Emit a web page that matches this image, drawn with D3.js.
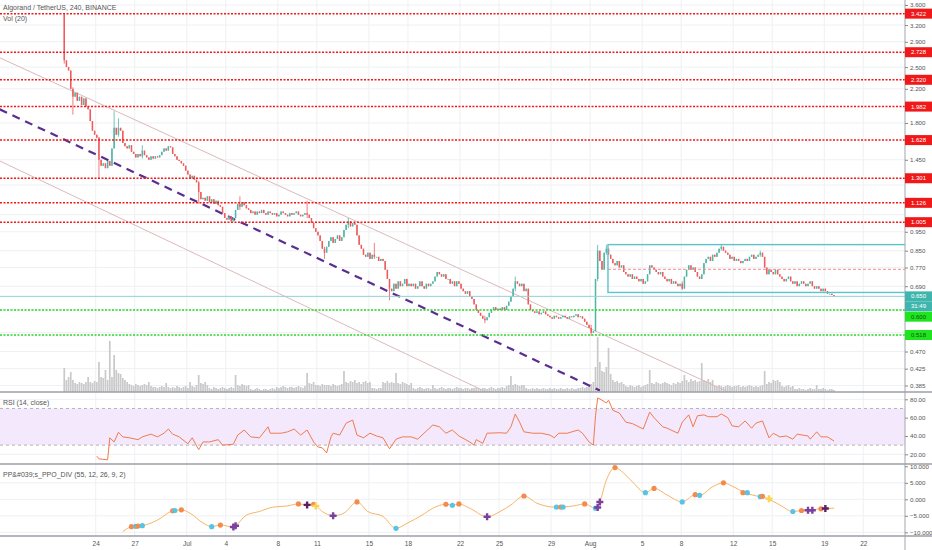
<!DOCTYPE html>
<html>
<head>
<meta charset="utf-8">
<script src="https://cdn.jsdelivr.net/npm/d3@7"></script>
<style>
  html, body { margin: 0; padding: 0; background: #fff; }
  svg { display: block; font-family: "Liberation Sans", Arial, sans-serif; }
</style>
</head>
<body>
<svg id="chart" width="932" height="550"></svg>
<script>
// ALGO/USDT 4h bars, first bar Jun 21 2019 14:00 UTC
const startTime = Date.UTC(2019, 5, 21, 14);
const firstOpen = 3.40;

const closes = [
  2.60, 2.50, 2.45, 2.20, 2.10,
  2.15, 2.05, 2.10, 2.00, 2.08, 1.98,
  1.95, 1.82, 1.72, 1.68, 1.65,
  1.45, 1.40, 1.42, 1.38, 1.44, 1.40,
  1.55, 1.75, 1.68, 1.75, 1.72,
  1.60, 1.57, 1.55, 1.58,
  1.52, 1.50, 1.47, 1.50, 1.48, 1.53, 1.49, 1.47,
  1.45, 1.48, 1.46, 1.48, 1.47, 1.49,
  1.52, 1.55, 1.53, 1.57, 1.56,
  1.50, 1.48, 1.45, 1.44, 1.42, 1.40,
  1.36, 1.33, 1.30, 1.32, 1.29, 1.27,
  1.20, 1.15,
  1.16, 1.14, 1.17, 1.13, 1.15, 1.12, 1.14, 1.11, 1.10,
  1.06, 1.03, 1.02, 1.04, 1.01, 1.03,
  1.08, 1.12, 1.10, 1.13, 1.11, 1.09, 1.08,
  1.06, 1.07, 1.05, 1.07, 1.06, 1.08, 1.06, 1.05, 1.07, 1.06,
  1.05, 1.06, 1.04, 1.05, 1.07, 1.06, 1.05, 1.04, 1.06, 1.05,
  1.06, 1.07, 1.05, 1.04, 1.05, 1.06, 1.05,
  1.03, 1.00, 0.97, 0.95, 0.93,
  0.90, 0.86, 0.84, 0.87,
  0.90, 0.92, 0.89, 0.91, 0.93, 0.90, 0.92,
  0.96, 0.99, 1.01, 0.98, 1.00, 0.99,
  0.93, 0.88, 0.86,
  0.83, 0.82, 0.84, 0.81, 0.83, 0.82, 0.82, 0.80, 0.81, 0.80,
  0.76, 0.72, 0.68, 0.67,
  0.70, 0.68, 0.71, 0.69, 0.70, 0.72, 0.69, 0.70,
  0.69, 0.70, 0.68, 0.69, 0.71, 0.69, 0.68, 0.70, 0.69, 0.70, 0.71,
  0.73, 0.75, 0.74, 0.73, 0.74, 0.72,
  0.72, 0.70, 0.71, 0.69, 0.71, 0.70,
  0.68, 0.67, 0.66, 0.67, 0.65, 0.64,
  0.62, 0.60, 0.59, 0.58,
  0.57, 0.565, 0.575,
  0.59, 0.60, 0.61, 0.60, 0.605, 0.60, 0.61, 0.60, 0.615,
  0.63, 0.65, 0.68, 0.71, 0.70, 0.69,
  0.70, 0.67, 0.68,
  0.62, 0.60, 0.595,
  0.59, 0.595, 0.585, 0.59, 0.595, 0.585,
  0.58, 0.575, 0.57, 0.58, 0.575, 0.57,
  0.575, 0.58, 0.575, 0.57, 0.578, 0.575, 0.58, 0.585, 0.575, 0.578, 0.57,
  0.56, 0.55, 0.54, 0.525, 0.53,
  0.72, 0.85,
  0.80, 0.76, 0.84,
  0.86, 0.83, 0.81,
  0.79, 0.78, 0.80, 0.77, 0.78,
  0.75, 0.74, 0.73, 0.74, 0.72, 0.73, 0.72, 0.71, 0.72,
  0.70, 0.71,
  0.74, 0.78, 0.77,
  0.76, 0.75, 0.74, 0.75, 0.73,
  0.72, 0.71, 0.72, 0.70, 0.71, 0.70, 0.69, 0.70, 0.68,
  0.73, 0.76, 0.78, 0.76, 0.77,
  0.75, 0.73, 0.72, 0.74,
  0.79, 0.81, 0.82, 0.80, 0.83, 0.82, 0.84,
  0.86, 0.87, 0.85,
  0.84, 0.83, 0.81, 0.82,
  0.80, 0.81, 0.80, 0.79, 0.80,
  0.81, 0.80, 0.82, 0.83, 0.81, 0.82, 0.83, 0.84, 0.82,
  0.77, 0.74, 0.76,
  0.75, 0.74, 0.76, 0.74, 0.73,
  0.72, 0.71, 0.72, 0.73, 0.71, 0.70,
  0.71, 0.69, 0.70, 0.71, 0.70, 0.69, 0.70, 0.71, 0.69, 0.68, 0.69,
  0.68, 0.67, 0.68, 0.67, 0.66, 0.66, 0.655, 0.65
];

// bars with visible wicks
const wickIdx  = [0, 4, 16, 23, 25, 36, 62, 81, 112, 120, 131, 143, 150, 194, 208, 243, 246, 250, 285, 303, 321];
const wickHigh = [3.422, 2.22, 1.66, 1.93, 1.85, 1.58, 1.28, 1.17, 1.14, 0.87, 1.03, 0.89, 0.72, 0.58, 0.73, 0.55, 0.88, 0.88, 0.71, 0.88, 0.85];
const wickLow  = [2.55, 1.89, 1.30, 1.55, 1.66, 1.46, 1.12, 1.08, 1.03, 0.81, 0.97, 0.81, 0.635, 0.555, 0.67, 0.515, 0.71, 0.83, 0.675, 0.85, 0.82];

// volume, millions ALGO
const volumes = [
  24, 12, 15, 20, 12, 9, 8, 10, 9, 8, 10, 15, 10, 9, 11, 10, 30, 15, 14, 22, 12, 51, 15, 37, 22, 19, 18,
  14, 12, 10, 8,
  7, 6, 8, 7, 6, 7, 8, 7, 10, 6,
  5, 5, 4, 5, 6, 5, 9, 5, 4, 5,
  4, 6, 5, 4, 5, 6, 4, 10, 6, 5, 7, 17, 9, 8, 10, 7,
  4, 3, 5, 4, 3, 4, 5, 4, 3, 4, 5, 4, 17,
  7, 6, 8, 7, 6, 7,
  3, 2, 3, 4, 3, 2, 3, 3, 2, 3, 4, 3, 5, 4, 5, 6, 5, 4, 5,
  5, 4, 5, 6, 5, 4, 6, 19,
  9, 8, 10, 7, 7, 6, 8, 7, 7,
  7, 6, 8, 7, 6, 7, 8, 21,
  10, 9, 11, 10, 12, 9, 10, 8, 10, 11, 9, 10,
  4, 4, 3, 4, 4,
  10, 9, 11, 9, 10, 9, 19,
  9, 8, 10, 9, 8, 7, 9,
  4, 3, 4, 5, 4, 3, 4, 4, 3, 7,
  4, 3, 4, 5, 4, 3, 4, 4, 3, 4, 5, 4, 4, 3, 4, 4, 3, 4, 4, 5,
  4, 3, 4, 4, 3, 4, 5, 4, 3, 4, 4, 5, 4, 6, 7, 16,
  7, 8, 7, 6, 7, 7,
  4, 3, 3, 4, 3, 4, 3, 3, 4, 3, 3, 4, 3, 4, 3, 3, 4, 3, 3, 4,
  3, 4, 3, 3, 4, 4, 5, 4, 5, 6, 8, 10,
  25, 55, 30, 21, 20, 25, 44, 18,
  12, 10, 11, 9, 10, 8,
  6, 5, 7, 6, 5, 6, 7, 5, 6, 7, 8, 22,
  9, 8, 10, 9, 8, 9, 10, 9, 8, 7, 9,
  8, 10, 9, 11, 17,
  12, 10, 13, 11, 12, 10, 11, 29,
  12, 11, 13, 10, 12,
  6, 5, 7, 6, 5, 6, 7, 6, 5, 6, 6, 7, 5, 6, 5, 6, 7, 6, 5, 6, 5, 6, 7, 21,
  8, 10, 9, 12, 11, 12, 10,
  6, 5, 6, 7, 5, 6,
  3, 3, 4, 3, 3, 2, 3, 4, 3, 3, 7, 3, 3, 4, 3, 2, 3, 3, 2
];

// RSI (14, close) read at bar indices
const rsiIdx = [15,16,20,21,23,25,27,30,34,36,40,43,46,48,50,53,57,59,62,64,67,71,73,78,80,83,86,90,94,95,
  100,103,106,109,112,115,117,119,121,123,124,127,130,133,135,138,141,144,147,150,153,156,160,163,165,170,173,176,179,182,
  187,189,190,193,195,201,204,206,208,210,212,216,220,224,226,228,232,237,239,242,244,245,246,248,250,251,253,256,259,262,
  267,270,272,276,278,283,285,288,290,292,295,297,301,303,306,308,311,314,317,319,322,325,327,330,333,336,338,343,344,347,
  349,352,355];
const rsiVal = [18,15,14,38,33.5,44,39,38,36,39,42,39,43,47.6,42,39,31.5,38,25,33.5,33.5,36,30,31,41,46.5,39,38,50,43,
  43,44.5,47.6,41,46.5,33.5,28,27,21.5,39,43,41,54,57.4,41,38,43,40,38,26,36.5,39,39,36.5,41,52,50,43,46.5,40,
  33.5,30,36,32,43,43.5,43,50,64,55,44.5,43,43,41,38,43,43,46.5,43,33.5,30,62,81.5,79,76,79,68,65,55,53.5,
  47.6,66,60,50,48.5,43,55,63,50,62,63,61,61,64,60,51,50,56.4,48.5,54,56.4,38,43,39,40,36.5,42,40,36.5,44.5,
  39,39,34.5];

// PP's PPO line read at bar indices
const ppoIdx = [27,31,36,43,50,54,58,64,68,72,78,79,84,90,96,103,108,112,115,119,
  124,129,135,140,147,153,158,165,170,176,179,182,187,195,201,206,212,218,227,230,
  235,240,245,247,250,254,258,262,268,272,278,285,291,293,299,304,308,314,321,322,
  325,330,336,340,343,345,349,351,355];
const ppoVal = [-9.8,-8.3,-8.0,-6.3,-3.5,-3.2,-4.2,-7.2,-8.3,-7.8,-8.4,-8.0,-4.8,-3.7,-2.4,-2.0,-1.4,-1.7,-1.6,-3.7,
  -5.0,-4.2,-0.8,-3.7,-5.2,-8.8,-7.3,-4.8,-2.7,-1.5,-1.8,-1.4,-2.7,-5.3,-3.7,-1.7,1.0,-1.2,-2.4,-2.3,
  -2.0,-1.4,-2.7,-0.7,5.8,9.6,7.9,5.3,2.0,3.3,1.3,-0.8,1.4,1.2,3.8,5.0,4.0,2.0,0.8,0.7,
  0.0,-1.7,-3.7,-3.4,-3.3,-3.3,-2.8,-2.8,-2.7];

// divergence markers: o = peak dot, b = trough dot, p / d = cross, y = yellow cross
const markIdx = [31,33,34,36,50,51,54,68,72,78,79,108,112,115,116,124,135,153,176,179,
  182,195,212,227,229,230,240,245,246,247,254,268,272,285,291,293,304,313,315,321,
  322,325,336,340,343,345,349,351];
const markVal = [-8.3,-8.2,-8.1,-8.0,-3.5,-3.4,-3.2,-8.3,-7.8,-8.4,-8.0,-1.4,-1.7,-1.5,-2.0,-5.0,-0.8,-8.8,-1.5,-1.8,
  -1.4,-5.3,1.0,-2.4,-2.4,-2.4,-1.4,-2.7,-2.5,-0.8,9.6,2.0,3.3,-0.8,1.4,1.2,5.0,2.0,2.0,0.8,
  0.9,0.2,-3.7,-3.4,-3.3,-3.3,-2.9,-2.8];
const markType = ("obobobobop" + "podoypobob" + "opobobobpp" + "oboboboobb" + "oyboppod").split("");

const redLevels = [3.422, 2.728, 2.320, 1.982, 1.628, 1.301, 1.126, 1.005];
const greenLevels = [0.600, 0.518];
const lastPrice = 0.650;
const countdown = "31:49";

const priceTicks = [3.6, 3.2, 2.9, 2.5, 2.2, 1.8, 1.45, 1.25, 1.05, 0.95, 0.85, 0.77, 0.69, 0.6, 0.525, 0.47, 0.425, 0.385];
const rsiTicks = [80, 60, 40, 20];
const ppoTicks = [10, 5, 0, -5, -10];
const dateTicks = ["2019-06-24","2019-06-27","2019-07-01","2019-07-04","2019-07-08","2019-07-11","2019-07-15","2019-07-18",
  "2019-07-22","2019-07-25","2019-07-29","2019-08-01","2019-08-05","2019-08-08","2019-08-12","2019-08-15","2019-08-19","2019-08-22"];
const dateLabels = ["24","27","Jul","4","8","11","15","18","22","25","29","Aug","5","8","12","15","19","22"];

// drawings: [time, price] anchors
const channelTop = [["2019-06-16T15:00Z", 2.64], ["2019-08-11T12:30Z", 0.372]];
const channelLow = [["2019-06-16T15:00Z", 1.44], ["2019-07-23T22:00Z", 0.372]];
const trendDash  = [["2019-06-16T15:00Z", 1.95], ["2019-08-01T18:00Z", 0.374]];
const rangeBox = { start: "2019-08-02T09:00Z", top: 0.881, bottom: 0.665, mid: 0.762 };

// ---------------------------------------------------------------
const svg = d3.select("#chart");
const right = 905;
const panes = { main: [0, 392], rsi: [392, 464], ppo: [464, 536] };

const x = d3.scaleUtc()
  .domain([new Date("2019-06-24T00:00Z"), new Date("2019-08-22T00:00Z")])
  .range([95.7, 863.3]);
const xi = (i) => x(new Date(startTime + i * 4 * 3600e3));
const y = d3.scaleLog().domain([0.385, 3.6]).range([385.5, 5]);
const yVol = d3.scaleLinear().domain([0, 55]).range([392, 337]);
const yRsi = d3.scaleLinear().domain([20, 80]).range([454.3, 399.3]);
const yPpo = d3.scaleLinear().domain([-10, 10]).range([532.3, 466.3]);

// price tags on the axis: [price, text, bg, fg, offset]
const tags = [
  ...redLevels.map((p) => [p, p.toFixed(3), "#f01818", "#fff", 0]),
  [lastPrice, lastPrice.toFixed(3), "#3fb6ad", "#fff", 0],
  [lastPrice, countdown, "#3fb6ad", "#fff", 10],
  [greenLevels[0], greenLevels[0].toFixed(3), "#1ee51e", "#1d4d1d", 6.7],
  [greenLevels[1], greenLevels[1].toFixed(3), "#1ee51e", "#1d4d1d", 0]
];
const tagY = tags.map((t) => y(t[0]) + t[4]);

const defs = svg.append("defs");
Object.entries(panes).forEach(([k, [a, b]]) => {
  defs.append("clipPath").attr("id", "clip-" + k)
    .append("rect").attr("x", 0).attr("y", a).attr("width", right).attr("height", b - a);
});

// grid
const grid = svg.append("g").attr("stroke", "#eef0f3").attr("stroke-width", 1);
grid.selectAll(".vg").data(dateTicks).join("line")
  .attr("x1", (d) => x(new Date(d + "T00:00Z"))).attr("x2", (d) => x(new Date(d + "T00:00Z")))
  .attr("y1", 0).attr("y2", 536);
grid.selectAll(".hg").data(priceTicks).join("line").attr("class", "hg")
  .attr("x1", 0).attr("x2", right).attr("y1", (d) => y(d)).attr("y2", (d) => y(d));
grid.selectAll(".rg").data(rsiTicks).join("line").attr("class", "rg")
  .attr("x1", 0).attr("x2", right).attr("y1", (d) => yRsi(d)).attr("y2", (d) => yRsi(d));
grid.selectAll(".pg").data(ppoTicks.slice(1)).join("line").attr("class", "pg")
  .attr("x1", 0).attr("x2", right).attr("y1", (d) => yPpo(d)).attr("y2", (d) => yPpo(d));

// main pane
const main = svg.append("g").attr("clip-path", "url(#clip-main)");

main.append("g").attr("fill", "#c9c9c9")
  .selectAll("rect").data(volumes).join("rect")
  .attr("x", (d, i) => xi(i) - 0.85).attr("width", 1.7)
  .attr("y", (d) => yVol(d)).attr("height", (d) => 392 - yVol(d));

const pt = (a) => [x(new Date(a[0])), y(a[1])];
[channelTop, channelLow].forEach((c) => {
  const [p0, p1] = c.map(pt);
  main.append("line").attr("x1", p0[0]).attr("y1", p0[1]).attr("x2", p1[0]).attr("y2", p1[1])
    .attr("stroke", "#dcb9b9").attr("stroke-width", 1);
});
{
  const [p0, p1] = trendDash.map(pt);
  main.append("line").attr("x1", p0[0]).attr("y1", p0[1]).attr("x2", p1[0]).attr("y2", p1[1])
    .attr("stroke", "#5a2d90").attr("stroke-width", 2.2).attr("stroke-dasharray", "8,6");
}

const bars = closes.map((c, i) => {
  const o = i === 0 ? firstOpen : closes[i - 1];
  const w = wickIdx.indexOf(i);
  return { i, o, c,
    h: w >= 0 ? wickHigh[w] : Math.max(o, c),
    l: w >= 0 ? wickLow[w] : Math.min(o, c) };
});
const col = (d) => (d.c >= d.o ? "#4fb5a6" : "#ef5b5b");
const candle = main.append("g").selectAll("g").data(bars).join("g");
candle.append("line")
  .attr("x1", (d) => xi(d.i)).attr("x2", (d) => xi(d.i))
  .attr("y1", (d) => y(d.h)).attr("y2", (d) => y(d.l))
  .attr("stroke", col).attr("stroke-width", 0.8);
candle.append("rect")
  .attr("x", (d) => xi(d.i) - 0.75).attr("width", 1.5)
  .attr("y", (d) => y(Math.max(d.o, d.c)))
  .attr("height", (d) => Math.max(0.8, Math.abs(y(d.o) - y(d.c))))
  .attr("fill", col);

// range box
const bx = x(new Date(rangeBox.start));
main.append("line").attr("x1", bx).attr("x2", right).attr("y1", y(rangeBox.mid)).attr("y2", y(rangeBox.mid))
  .attr("stroke", "#f08c8c").attr("stroke-width", 1).attr("stroke-dasharray", "3,2");
main.append("rect").attr("x", bx).attr("width", right - bx + 2)
  .attr("y", y(rangeBox.top)).attr("height", y(rangeBox.bottom) - y(rangeBox.top))
  .attr("fill", "none").attr("stroke", "#5cc3cb").attr("stroke-width", 1.4);
main.append("line").attr("x1", 0).attr("x2", right).attr("y1", y(lastPrice)).attr("y2", y(lastPrice))
  .attr("stroke", "#8fd3d3").attr("stroke-width", 1);

// horizontal levels
main.selectAll(".red").data(redLevels).join("line").attr("class", "red")
  .attr("x1", 0).attr("x2", right).attr("y1", (d) => y(d)).attr("y2", (d) => y(d))
  .attr("stroke", "#f01818").attr("stroke-width", 1.5).attr("stroke-dasharray", "2,1.5");
main.selectAll(".green").data(greenLevels).join("line").attr("class", "green")
  .attr("x1", 0).attr("x2", right).attr("y1", (d) => y(d)).attr("y2", (d) => y(d))
  .attr("stroke", "#27d827").attr("stroke-width", 1.5).attr("stroke-dasharray", "2,1.5");

// RSI pane
const rsiG = svg.append("g").attr("clip-path", "url(#clip-rsi)");
rsiG.append("rect").attr("x", 0).attr("width", right)
  .attr("y", yRsi(70)).attr("height", yRsi(30) - yRsi(70)).attr("fill", "#f3e8fc");
[70, 30].forEach((v) => rsiG.append("line").attr("x1", 0).attr("x2", right)
  .attr("y1", yRsi(v)).attr("y2", yRsi(v))
  .attr("stroke", "#b4b4b4").attr("stroke-width", 1).attr("stroke-dasharray", "3,3"));
rsiG.append("path").datum(rsiIdx.map((d, k) => [xi(d), yRsi(rsiVal[k])]))
  .attr("fill", "none").attr("stroke", "#f07c4e").attr("stroke-width", 1)
  .attr("d", d3.line());

// PPO pane
const ppoG = svg.append("g").attr("clip-path", "url(#clip-ppo)");
ppoG.append("path").datum(ppoIdx.map((d, k) => [xi(d), yPpo(ppoVal[k])]))
  .attr("fill", "none").attr("stroke", "#f8b565").attr("stroke-width", 1)
  .attr("d", d3.line().curve(d3.curveMonotoneX));
const markColor = { o: "#f58a4d", b: "#55c4e6", p: "#7b3f9e", d: "#5e1f61", y: "#ffd34a" };
markIdx.forEach((d, k) => {
  const t = markType[k], cx = xi(d), cy = yPpo(markVal[k]);
  if (t === "o" || t === "b") {
    ppoG.append("circle").attr("cx", cx).attr("cy", cy).attr("r", 2.6).attr("fill", markColor[t]);
  } else {
    ppoG.append("path").attr("d", `M${cx - 3.5},${cy}H${cx + 3.5}M${cx},${cy - 3.5}V${cy + 3.5}`)
      .attr("stroke", markColor[t]).attr("stroke-width", 2.4);
  }
});

// separators
svg.append("line").attr("x1", right).attr("x2", right).attr("y1", 0).attr("y2", 550)
  .attr("stroke", "#a3a6ad").attr("stroke-width", 1);
[392, 464, 536].forEach((v) => svg.append("line").attr("x1", 0).attr("x2", 932)
  .attr("y1", v).attr("y2", v).attr("stroke", "#9c9fa6").attr("stroke-width", 1.4));

// right axes
function styleAxis(g) {
  g.select(".domain").remove();
  g.selectAll("line").attr("stroke", "#888");
  g.selectAll("text").attr("fill", "#555").attr("font-size", 6.2).attr("x", 5);
}
const freeTicks = priceTicks.filter((p) => tagY.every((t) => Math.abs(y(p) - t) >= 7.5));
svg.append("g").attr("transform", `translate(${right},0)`)
  .call(d3.axisRight(y).tickValues(freeTicks).tickFormat(d3.format(".3f")).tickSize(3))
  .call(styleAxis);
svg.append("g").attr("transform", `translate(${right},0)`)
  .call(d3.axisRight(yRsi).tickValues(rsiTicks).tickFormat(d3.format(".2f")).tickSize(3))
  .call(styleAxis);
svg.append("g").attr("transform", `translate(${right},0)`)
  .call(d3.axisRight(yPpo).tickValues(ppoTicks).tickFormat(d3.format(".3f")).tickSize(3))
  .call(styleAxis);

// x axis
svg.append("g").attr("transform", "translate(0,537)")
  .call(d3.axisBottom(x).tickValues(dateTicks.map((d) => new Date(d + "T00:00Z")))
    .tickFormat((d, i) => dateLabels[i]).tickSize(0))
  .call((g) => g.select(".domain").remove())
  .call((g) => g.selectAll("text").attr("fill", "#555").attr("font-size", 6.5).attr("dy", "0.9em"));

// axis tags for levels
tags.forEach((t, k) => {
  const cy = tagY[k];
  const g = svg.append("g");
  g.append("rect").attr("x", right).attr("y", cy - 5).attr("width", 27).attr("height", 10).attr("fill", t[2]);
  g.append("text").attr("x", right + 13.5).attr("y", cy).attr("dy", "0.35em")
    .attr("text-anchor", "middle").attr("font-size", 6).attr("fill", t[3]).text(t[1]);
});

// legends
const legend = (ty, text) => svg.append("text").attr("x", 3).attr("y", ty)
  .attr("font-size", 7).attr("fill", "#555").text(text);
legend(10, "Algorand / TetherUS, 240, BINANCE");
legend(20.5, "Vol (20)");
legend(405, "RSI (14, close)");
legend(477, "PP&#039;s_PPO_DIV (55, 12, 26, 9, 2)");
</script>
</body>
</html>
